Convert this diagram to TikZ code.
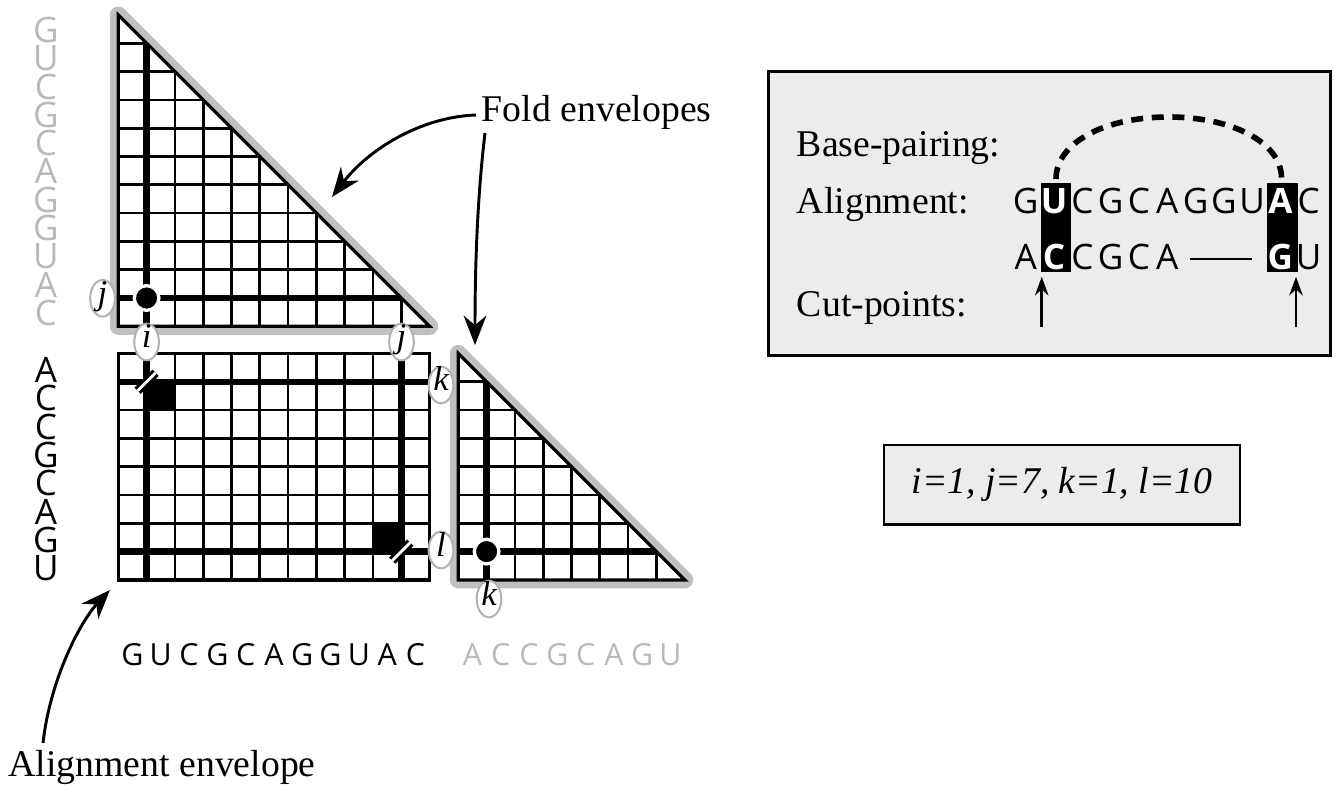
\documentclass[tikz,border=0pt]{standalone}
\usepackage{fontspec}
\setmainfont{Liberation Serif}
\newfontfamily\seqfont{Open Sans}
\usetikzlibrary{arrows.meta,shapes.geometric}
\definecolor{envgray}{RGB}{192,192,192}
\definecolor{seqgray}{RGB}{185,185,185}
\definecolor{boxfill}{RGB}{236,236,236}
\definecolor{labgray}{RGB}{178,178,178}
\begin{document}
\begin{tikzpicture}[x=0.75pt,y=-0.75pt,
  envelope/.style={draw=envgray,line width=12.75pt,line join=round},
  gridline/.style={line width=2pt},
  frame/.style={line width=2.4pt},
  heavy/.style={line width=4.8pt},
  lab/.style={ellipse,draw=labgray,line width=1.5pt,fill=white,inner sep=0pt,
    minimum width=18.5pt,minimum height=27.5pt,
    font=\fontsize{26}{27}\selectfont\itshape,text height=12pt,text depth=3pt},
  serif/.style={font=\fontsize{28.3}{34}\selectfont,inner sep=0pt,anchor=base west},
  seqL/.style={font=\seqfont\fontsize{26.3}{30}\selectfont,inner sep=0pt,anchor=base},
  seqW/.style={font=\seqfont\bfseries\fontsize{26.3}{30}\selectfont,inner sep=0pt,anchor=base,text=white},
  seqB/.style={font=\seqfont\fontsize{22.8}{28}\selectfont,inner sep=0pt,anchor=base},
  curvearrow/.style={line width=2.2pt,-{Stealth[length=22pt,width=17pt]}},
  cutarrow/.style={line width=2pt,-{Stealth[length=14pt,width=10pt]}},
  slashmark/.style={line width=2.2pt,double=white,double distance=2.2pt},
  bigdot/.style={circle,fill=black,draw=white,line width=2.5pt,inner sep=0pt,minimum size=18.5pt},
  infobox/.style={draw,line width=2.2pt,fill=boxfill,inner sep=0pt}
]
\useasboundingbox (0,0) rectangle (1334,787);

% ---------- envelopes (gray) ----------
\draw[envelope] (118.3,15) -- (118.3,326.3) -- (429.6,326.3) -- cycle;
\draw[envelope] (458.3,353.5) -- (458.3,579.9) -- (684.7,579.9) -- cycle;
\fill[white] (118.3,15) -- (118.3,326.3) -- (429.6,326.3) -- cycle;
\fill[white] (458.3,353.5) -- (458.3,579.9) -- (684.7,579.9) -- cycle;

% ---------- top fold triangle ----------
\begin{scope}
\clip (118.3,15) -- (118.3,326.3) -- (429.6,326.3) -- cycle;
\foreach \k in {1,...,10} {
  \draw[gridline] ({118.3+\k*28.3},15) -- ({118.3+\k*28.3},326.3);
  \draw[gridline] (118.3,{15+\k*28.3}) -- (429.6,{15+\k*28.3});
}
\draw[heavy] (146.6,15) -- (146.6,326.3);
\draw[heavy] (118.3,298) -- (429.6,298);
\end{scope}
\draw[frame] (118.3,15) -- (118.3,326.3) -- (429.6,326.3) -- cycle;
\node[bigdot] (dot1) at (146.6,298) {};

% ---------- alignment square ----------
\fill[white] (118.3,353.5) rectangle (429.6,579.9);
\fill[black] (146.6,381.8) rectangle (174.9,410.1);
\fill[black] (373.0,523.3) rectangle (401.3,551.6);
\foreach \k in {1,...,10}
  \draw[gridline] ({118.3+\k*28.3},353.5) -- ({118.3+\k*28.3},579.9);
\foreach \k in {1,...,7}
  \draw[gridline] (118.3,{353.5+\k*28.3}) -- (429.6,{353.5+\k*28.3});
\draw[heavy] (146.6,353.5) -- (146.6,579.9);
\draw[heavy] (401.3,353.5) -- (401.3,579.9);
\draw[heavy] (118.3,381.8) -- (429.6,381.8);
\draw[heavy] (118.3,551.6) -- (429.6,551.6);
\draw[frame] (118.3,353.5) rectangle (429.6,579.9);
\draw[slashmark] (137.6,390.8) -- (155.6,372.8);
\draw[slashmark] (392.3,560.6) -- (410.3,542.6);

% ---------- small fold triangle ----------
\begin{scope}
\clip (458.3,353.5) -- (458.3,579.9) -- (684.7,579.9) -- cycle;
\foreach \k in {1,...,7} {
  \draw[gridline] ({458.3+\k*28.3},353.5) -- ({458.3+\k*28.3},579.9);
  \draw[gridline] (458.3,{353.5+\k*28.3}) -- (684.7,{353.5+\k*28.3});
}
\draw[heavy] (486.6,353.5) -- (486.6,579.9);
\draw[heavy] (458.3,551.6) -- (684.7,551.6);
\end{scope}
\draw[frame] (458.3,353.5) -- (458.3,579.9) -- (684.7,579.9) -- cycle;
\node[bigdot] (dot2) at (486.6,551.6) {};

% ---------- index labels ----------
\node[lab] (lj1) at (102.5,298.3) {j};
\node[lab] (li1) at (146.6,342) {i};
\node[lab] (lj2) at (401.5,342) {j};
\node[lab] (lk1) at (441,385) {k};
\node[lab] (ll1) at (441,550) {l};
\node[lab] (lk2) at (489,599) {k};

% ---------- sequences ----------
\foreach \ch [count=\i from 0] in {G,U,C,G,C,A,G,G,U,A,C}
  \node[seqL,text=seqgray] (lt\i) at (46,{42.5+\i*28.3}) {\ch};
\foreach \ch [count=\i from 0] in {A,C,C,G,C,A,G,U}
  \node[seqL] (lb\i) at (46,{382.5+\i*28.3}) {\ch};
\foreach \ch [count=\i from 0] in {G,U,C,G,C,A,G,G,U,A,C}
  \node[seqB] (bb\i) at ({132.45+\i*28.3},665) {\ch};
\foreach \ch [count=\i from 0] in {A,C,C,G,C,A,G,U}
  \node[seqB,text=seqgray] (bg\i) at ({472.45+\i*28.3},665) {\ch};

% ---------- annotations ----------
\node[serif] (fold) at (481.7,121.7) {Fold envelopes};
\node[serif] (aenv) at (8.3,776.7) {Alignment envelope};
\coordinate (f1s) at (476,115);
\coordinate (f1t) at (332,197);
\coordinate (f2s) at (485,133);
\coordinate (f2t) at (475,345);
\coordinate (aes) at (43,743);
\coordinate (aet) at (110,590);
\draw[curvearrow] (f1s) .. controls (420,117) and (368,150) .. (f1t);
\draw[curvearrow] (f2s) .. controls (477,200) and (475,270) .. (f2t);
\draw[curvearrow] (aes) .. controls (50,680) and (80,622) .. (aet);

% ---------- legend box ----------
\node[infobox,minimum width=421.3pt,minimum height=212.5pt] (box1) at (1049.2,213.4) {};
\node[serif] (bplab) at (796.7,156.7) {Base-pairing:};
\node[serif] (allab) at (796.7,213.3) {Alignment:};
\node[serif] (cplab) at (796.7,316.7) {Cut-points:};
\fill[black] (1041,183.3) rectangle (1071,271.7);
\fill[black] (1266.5,183.3) rectangle (1297.5,271.7);
\foreach \ch/\sty [count=\i from 0] in {G/seqL,U/seqW,C/seqL,G/seqL,C/seqL,A/seqL,G/seqL,G/seqL,U/seqL,A/seqW,C/seqL}
  \node[\sty] (r1\i) at ({1025.7+\i*28.3},213.3) {\ch};
\foreach \ch/\sty/\i in {A/seqL/0,C/seqW/1,C/seqL/2,G/seqL/3,C/seqL/4,A/seqL/5,G/seqW/9,U/seqL/10}
  \node[\sty] (r2\i) at ({1025.7+\i*28.3},270) {\ch};
\coordinate (gapL) at (1190,259);
\coordinate (gapR) at (1252,259);
\draw[line width=1.6pt] (gapL) -- (gapR);
\coordinate (arcL) at (1056,179);
\coordinate (arcT) at (1168.7,117);
\coordinate (arcR) at (1281.5,178);
\draw[line width=4.2pt,dash pattern=on 9pt off 6.5pt]
  (arcL) .. controls (1056,143) and (1104,117) .. (arcT)
         .. controls (1233,117) and (1281.5,143) .. (arcR);
\coordinate (c1s) at (1041.7,327);
\coordinate (c1t) at (1041.7,276.7);
\coordinate (c2s) at (1296,327);
\coordinate (c2t) at (1296,276.7);
\draw[cutarrow] (c1s) -- (c1t);
\draw[cutarrow] (c2s) -- (c2t);

% ---------- parameter box ----------
\node[infobox,minimum width=267pt,minimum height=59.5pt,
      font=\fontsize{28.3}{34}\selectfont\itshape] (box2) at (1062,484.7) {i=1, j=7, k=1, l=10};
\end{tikzpicture}
\end{document}
